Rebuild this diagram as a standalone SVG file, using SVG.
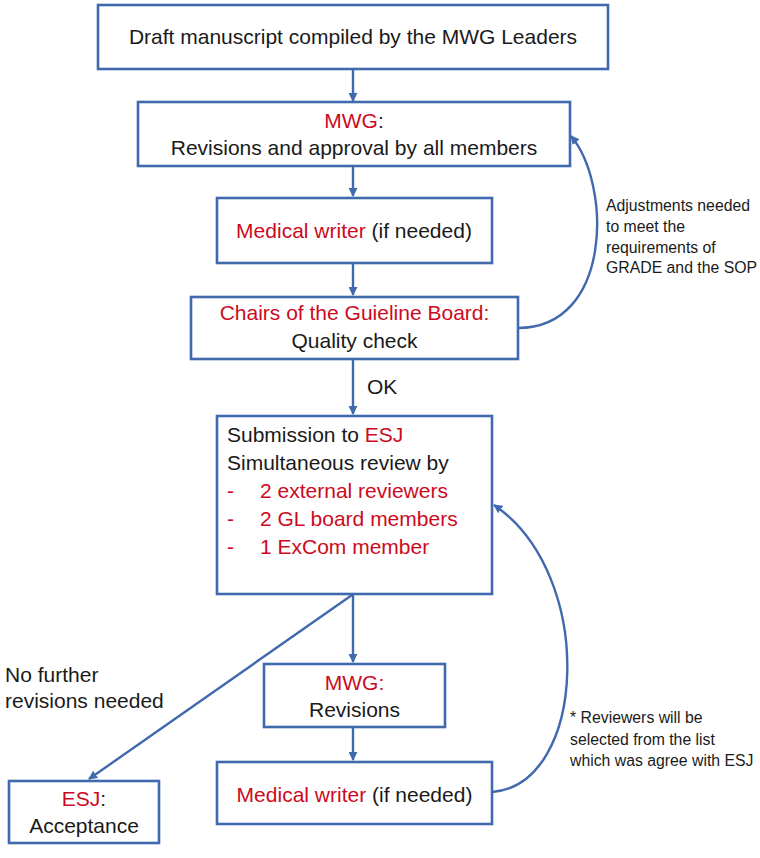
<svg xmlns="http://www.w3.org/2000/svg" width="760" height="858" viewBox="0 0 760 858">
<defs>
<style>
.box{fill:#ffffff;stroke:#4169AE;stroke-width:2.6}
.t{font-family:"Liberation Sans",Arial,sans-serif;font-size:21px;fill:#1a1a1a}
.m{text-anchor:middle}
.r{fill:#CC0A1E}
.n{font-family:"Liberation Sans",Arial,sans-serif;font-size:15.8px;fill:#1a1a1a}
.c{fill:none;stroke:#4169AE;stroke-width:2.4}
</style>
<marker id="ah" viewBox="0 0 10 10" refX="9" refY="5" markerWidth="9" markerHeight="9" markerUnits="userSpaceOnUse" orient="auto">
<path d="M0,0 L10,5 L0,10 z" fill="#4169AE"/>
</marker>
</defs>
<rect width="760" height="858" fill="#ffffff"/>
<g id="connectors">
<path class="c" d="M353,69 V101" marker-end="url(#ah)"/>
<path class="c" d="M353,166 V196" marker-end="url(#ah)"/>
<path class="c" d="M353,263 V295" marker-end="url(#ah)"/>
<path class="c" d="M353,359 V414" marker-end="url(#ah)"/>
<path class="c" d="M353,595 V662" marker-end="url(#ah)"/>
<path class="c" d="M353,727 V760" marker-end="url(#ah)"/>
<path class="c" d="M352,595 L89,779" marker-end="url(#ah)"/>
<path class="c" d="M518,328 C612,328 612,185 571,136" marker-end="url(#ah)"/>
<path class="c" d="M492,792 C587,785 597,575 494,505" marker-end="url(#ah)"/>
<text class="t" x="367" y="394">OK</text>
<text class="t" x="5" y="682">No further</text>
<text class="t" x="5" y="708">revisions needed</text>
<text class="n" x="606" y="211">Adjustments needed</text>
<text class="n" x="606" y="232">to meet the</text>
<text class="n" x="606" y="253">requirements of</text>
<text class="n" x="606" y="273">GRADE and the SOP</text>
<text class="n" x="570" y="723">* Reviewers will be</text>
<text class="n" x="570" y="745">selected from the list</text>
<text class="n" x="570" y="766">which was agree with ESJ</text>
</g>
<g id="draft">
<rect class="box" x="98" y="5" width="510" height="64"/>
<text class="t m" x="353" y="44">Draft manuscript compiled by the MWG Leaders</text>
</g>
<g id="mwg-approval">
<rect class="box" x="138" y="102" width="432" height="64"/>
<text class="t m" x="354" y="128"><tspan class="r">MWG</tspan>:</text>
<text class="t m" x="354" y="155">Revisions and approval by all members</text>
</g>
<g id="medical-writer-1">
<rect class="box" x="217" y="198" width="275" height="65"/>
<text class="t m" x="354" y="238"><tspan class="r">Medical writer</tspan> (if needed)</text>
</g>
<g id="chairs">
<rect class="box" x="191" y="297" width="327" height="62"/>
<text class="t m r" x="354.5" y="320">Chairs of the Guieline Board:</text>
<text class="t m" x="354.5" y="348">Quality check</text>
</g>
<g id="submission">
<rect class="box" x="217" y="416" width="275" height="178"/>
<text class="t" x="227" y="442">Submission to <tspan class="r">ESJ</tspan></text>
<text class="t" x="227" y="470">Simultaneous review by</text>
<text class="t r" x="227" y="498">-</text>
<text class="t r" x="260" y="498">2 external reviewers</text>
<text class="t r" x="227" y="526">-</text>
<text class="t r" x="260" y="526">2 GL board members</text>
<text class="t r" x="227" y="554">-</text>
<text class="t r" x="260" y="554">1 ExCom member</text>
</g>
<g id="mwg-revisions">
<rect class="box" x="264" y="664" width="181" height="63"/>
<text class="t m r" x="354.5" y="690">MWG:</text>
<text class="t m" x="354.5" y="717">Revisions</text>
</g>
<g id="medical-writer-2">
<rect class="box" x="217" y="762" width="275" height="62"/>
<text class="t m" x="354.5" y="802"><tspan class="r">Medical writer</tspan> (if needed)</text>
</g>
<g id="esj-acceptance">
<rect class="box" x="9" y="781" width="150" height="62"/>
<text class="t m" x="84" y="806"><tspan class="r">ESJ</tspan>:</text>
<text class="t m" x="84" y="833">Acceptance</text>
</g>
</svg>
